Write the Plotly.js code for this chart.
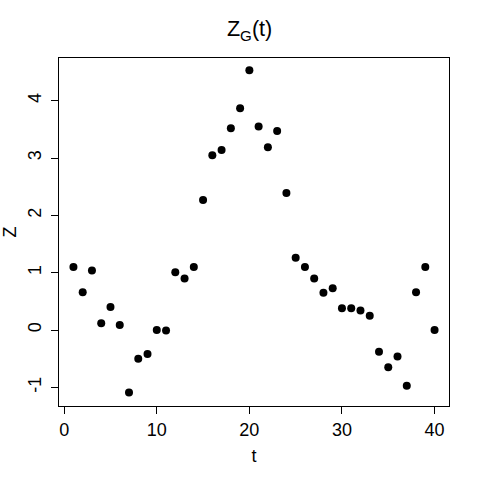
<!DOCTYPE html>
<html>
<head>
<meta charset="utf-8">
<script src="https://cdn.plot.ly/plotly-3.0.1.min.js"></script>
<style>html,body{margin:0;padding:0;background:#fff;}#chart{width:480px;height:480px;}</style>
</head>
<body>
<div id="chart"></div>
<script>
const t = [1,2,3,4,5,6,7,8,9,10,11,12,13,14,15,16,17,18,19,20,21,22,23,24,25,26,27,28,29,30,31,32,33,34,35,36,37,38,39,40];
const Z = [1.10,0.66,1.04,0.12,0.40,0.09,-1.09,-0.50,-0.42,0.00,-0.01,1.01,0.90,1.10,2.27,3.05,3.14,3.52,3.87,4.53,3.55,3.19,3.47,2.39,1.26,1.10,0.90,0.65,0.73,0.38,0.38,0.34,0.25,-0.38,-0.65,-0.46,-0.97,0.66,1.10,0.00];
const xTickVals = [0,10,20,30,40];
const yTickVals = [-1,0,1,2,3,4];
const yTickText = ["-1","0","1","2","3","4"];

const font = {family: "Liberation Sans, Arial, sans-serif", color: "#000"};
Plotly.newPlot("chart", [{
  x: t, y: Z, type: "scatter", mode: "markers",
  marker: {color: "#000", size: 8}
}], {
  width: 480, height: 480,
  margin: {l: 59, r: 31, t: 58, b: 74},
  paper_bgcolor: "#fff", plot_bgcolor: "#fff",
  showlegend: false,
  font: Object.assign({size: 18}, font),
  title: {text: "Z<sub>G</sub>(t)", x: 0.52, xanchor: "center", y: 0.94, yanchor: "middle", font: Object.assign({size: 21.6}, font)},
  xaxis: {
    range: [-0.56, 41.56], tickmode: "array", tickvals: xTickVals,
    showgrid: false, zeroline: false, showline: true, mirror: true, linecolor: "#000", linewidth: 1,
    ticks: "outside", ticklen: 7, tickcolor: "#000",
    tickfont: Object.assign({size: 18}, font),
    title: {text: "t", font: Object.assign({size: 18}, font), standoff: 10}
  },
  yaxis: {
    range: [-1.325, 4.745], tickmode: "array", tickvals: yTickVals, ticktext: yTickText, tickangle: -90,
    showgrid: false, zeroline: false, showline: true, mirror: true, linecolor: "#000", linewidth: 1,
    ticks: "outside", ticklen: 7, tickcolor: "#000", ticklabelstandoff: 3,
    tickfont: Object.assign({size: 18}, font),
    title: {text: "Z", font: Object.assign({size: 18}, font), standoff: 12}
  }
}, {staticPlot: true});
</script>
</body>
</html>
